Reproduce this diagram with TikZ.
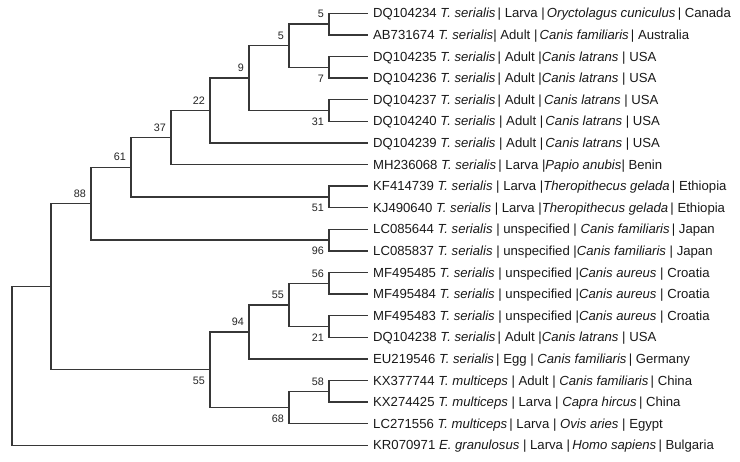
\documentclass[tikz,border=0pt]{standalone}
\usepackage{fontspec}
\setmainfont{Liberation Sans}
\begin{document}
\begin{tikzpicture}[x=1pt,y=-1pt,
  br/.style={draw={rgb,255:red,55;green,55;blue,55},line width=1.25pt,line cap=rect},
  leaf/.style={anchor=base west,inner sep=0pt,xshift=6pt,yshift=-4.7pt,font=\fontsize{13.15}{15}\selectfont,text={rgb,255:red,25;green,25;blue,25}},
  bsup/.style={anchor=base east,inner sep=0pt,font=\fontsize{10.8}{12}\selectfont,xshift=-5pt,yshift=6.2pt,text={rgb,255:red,35;green,35;blue,35}},
  bsdn/.style={anchor=base east,inner sep=0pt,font=\fontsize{10.8}{12}\selectfont,xshift=-5pt,yshift=-14.9pt,text={rgb,255:red,35;green,35;blue,35}}]
\useasboundingbox (0,0) rectangle (740,462);
% leaf tips
\foreach \i/\y in {1/13.3,2/34.9,3/56.5,4/78.1,5/99.7,6/121.3,7/142.9,8/164.5,9/186.1,10/207.7,11/229.3,12/250.9,13/272.5,14/294.1,15/315.7,16/337.3,17/358.9,18/380.5,19/402.1,20/423.7,21/445.3}
  \coordinate (t\i) at (367,\y);
% internal nodes
\coordinate (a) at (329,24.1);
\coordinate (b) at (329,67.3);
\coordinate (c) at (289,45.7);
\coordinate (d) at (329,110.5);
\coordinate (e) at (249,78.1);
\coordinate (f) at (210,110.5);
\coordinate (g) at (171,137.5);
\coordinate (h) at (329,196.9);
\coordinate (i) at (131,167.2);
\coordinate (j) at (329,240.1);
\coordinate (k) at (91,203.6);
\coordinate (l) at (329,283.3);
\coordinate (m) at (329,326.5);
\coordinate (n) at (289,304.9);
\coordinate (o) at (249,331.9);
\coordinate (p) at (329,391.3);
\coordinate (q) at (289,407.5);
\coordinate (r) at (210,369.7);
\coordinate (s) at (51,286.7);
\coordinate (root) at (12,366);
% branches
\draw[br] (t1) -| (a) |- (t2);
\draw[br] (t3) -| (b) |- (t4);
\draw[br] (a) -| (c) |- (b);
\draw[br] (t5) -| (d) |- (t6);
\draw[br] (c) -| (e) |- (d);
\draw[br] (e) -| (f) |- (t7);
\draw[br] (f) -| (g) |- (t8);
\draw[br] (t9) -| (h) |- (t10);
\draw[br] (g) -| (i) |- (h);
\draw[br] (t11) -| (j) |- (t12);
\draw[br] (i) -| (k) |- (j);
\draw[br] (t13) -| (l) |- (t14);
\draw[br] (t15) -| (m) |- (t16);
\draw[br] (l) -| (n) |- (m);
\draw[br] (n) -| (o) |- (t17);
\draw[br] (t18) -| (p) |- (t19);
\draw[br] (p) -| (q) |- (t20);
\draw[br] (o) -| (r) |- (q);
\draw[br] (k) -| (s) |- (r);
\draw[br] (s) -| (root) |- (t21);
% bootstrap values
\node[bsup] (la) at (a) {5};
\node[bsdn] (lb) at (b) {7};
\node[bsup] (lc) at (c) {5};
\node[bsdn] (ld) at (d) {31};
\node[bsup] (le) at (e) {9};
\node[bsup] (lf) at (f) {22};
\node[bsup] (lg) at (g) {37};
\node[bsdn] (lh) at (h) {51};
\node[bsup] (li) at (i) {61};
\node[bsdn] (lj) at (j) {96};
\node[bsup] (lk) at (k) {88};
\node[bsup] (ll) at (l) {56};
\node[bsdn] (lm) at (m) {21};
\node[bsup] (ln) at (n) {55};
\node[bsup] (lo) at (o) {94};
\node[bsup] (lp) at (p) {58};
\node[bsdn] (lq) at (q) {68};
\node[bsdn] (lr) at (r) {55};
% leaf labels
\node[leaf] (L1) at (t1) {DQ104234 \textit{T. serialis}\,| Larva |\,\textit{Oryctolagus cuniculus}\,| Canada};
\node[leaf] (L2) at (t2) {AB731674 \textit{T. serialis}| Adult |\,\textit{Canis familiaris}\,| Australia};
\node[leaf] (L3) at (t3) {DQ104235 \textit{T. serialis}\,| Adult |\textit{Canis latrans} | USA};
\node[leaf] (L4) at (t4) {DQ104236 \textit{T. serialis}\,| Adult |\textit{Canis latrans} | USA};
\node[leaf] (L5) at (t5) {DQ104237 \textit{T. serialis}\,| Adult |\,\textit{Canis latrans} | USA};
\node[leaf] (L6) at (t6) {DQ104240 \textit{T. serialis} | Adult |\,\textit{Canis latrans} | USA};
\node[leaf] (L7) at (t7) {DQ104239 \textit{T. serialis} | Adult |\,\textit{Canis latrans} | USA};
\node[leaf] (L8) at (t8) {MH236068 \textit{T. serialis}\,| Larva |\textit{Papio anubis}| Benin};
\node[leaf] (L9) at (t9) {KF414739 \textit{T. serialis} | Larva |\textit{Theropithecus gelada}\,| Ethiopia};
\node[leaf] (L10) at (t10) {KJ490640 \textit{T. serialis} | Larva |\textit{Theropithecus gelada}\,| Ethiopia};
\node[leaf] (L11) at (t11) {LC085644 \textit{T. serialis} | unspecified | \textit{Canis familiaris}\,| Japan};
\node[leaf] (L12) at (t12) {LC085837 \textit{T. serialis} | unspecified |\textit{Canis familiaris} | Japan};
\node[leaf] (L13) at (t13) {MF495485 \textit{T. serialis} | unspecified |\textit{Canis aureus} | Croatia};
\node[leaf] (L14) at (t14) {MF495484 \textit{T. serialis} | unspecified |\textit{Canis aureus} | Croatia};
\node[leaf] (L15) at (t15) {MF495483 \textit{T. serialis} | unspecified |\textit{Canis aureus} | Croatia};
\node[leaf] (L16) at (t16) {DQ104238 \textit{T. serialis}\,| Adult |\textit{Canis latrans} | USA};
\node[leaf] (L17) at (t17) {EU219546 \textit{T. serialis}\,| Egg | \textit{Canis familiaris}\,| Germany};
\node[leaf] (L18) at (t18) {KX377744 \textit{T. multiceps} | Adult | \textit{Canis familiaris}\,| China};
\node[leaf] (L19) at (t19) {KX274425 \textit{T. multiceps} | Larva | \textit{Capra hircus}\,| China};
\node[leaf] (L20) at (t20) {LC271556 \textit{T. multiceps}\,| Larva | \textit{Ovis aries} | Egypt};
\node[leaf] (L21) at (t21) {KR070971 \textit{E. granulosus} | Larva |\,\textit{Homo sapiens}\,| Bulgaria};
\end{tikzpicture}
\end{document}
